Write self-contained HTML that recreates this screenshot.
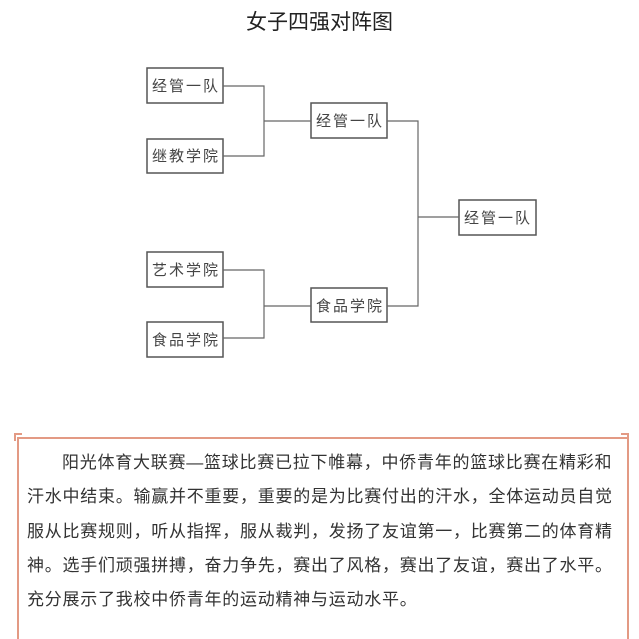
<!DOCTYPE html>
<html><head><meta charset="utf-8"><style>
body{margin:0;width:639px;height:607px;background:#fff;position:relative;overflow:hidden;font-family:"Liberation Sans","Noto Sans CJK SC",sans-serif;}
.t{position:absolute;left:0;width:639px;top:6px;text-align:center;font-size:21px;color:#222;}
.frame{position:absolute;left:17px;top:437px;width:608px;height:200px;border-left:2px solid #e39a84;border-right:2px solid #e39a84;border-top:2px solid #e39a84;}
.c{position:absolute;width:6px;height:6px;border-top:2px solid #e39a84;top:433px;}
.p{position:absolute;left:27px;top:446px;width:590px;font-size:17px;line-height:34.3px;letter-spacing:0.75px;color:#333;text-indent:35px;}
</style></head><body>
<div class="t">女子四强对阵图</div>
<svg width="639" height="420" style="position:absolute;left:0;top:0" font-family="Liberation Sans, Noto Sans CJK SC, sans-serif" font-size="15" fill="#444">
<g fill="#fff" stroke="#555" stroke-width="1.5">
<rect x="147" y="68" width="76" height="35"/>
<rect x="147" y="139" width="76" height="34"/>
<rect x="311" y="103" width="76" height="35"/>
<rect x="459" y="200" width="77" height="35"/>
<rect x="147" y="252" width="76" height="35"/>
<rect x="147" y="322" width="76" height="35"/>
<rect x="311" y="288" width="76" height="34"/>
</g>
<g fill="none" stroke="#666" stroke-width="1.2">
<path d="M223 86H264V156H223M264 121H311"/>
<path d="M223 270H264V338H223M264 306H311"/>
<path d="M387 121H418V306H387M418 217H459"/>
</g>
<g text-anchor="middle" fill="#444" letter-spacing="2">
<text x="186" y="91">经管一队</text>
<text x="186" y="161">继教学院</text>
<text x="350" y="126">经管一队</text>
<text x="498" y="223">经管一队</text>
<text x="186" y="275">艺术学院</text>
<text x="186" y="345">食品学院</text>
<text x="350" y="311">食品学院</text>
</g>
</svg>
<div class="frame"></div>
<div class="c" style="left:14px;border-left:2px solid #e39a84"></div>
<div class="c" style="left:621px;border-right:2px solid #e39a84"></div>
<div class="p">阳光体育大联赛—篮球比赛已拉下帷幕，中侨青年的篮球比赛在精彩和汗水中结束。输赢并不重要，重要的是为比赛付出的汗水，全体运动员自觉服从比赛规则，听从指挥，服从裁判，发扬了友谊第一，比赛第二的体育精神。选手们顽强拼搏，奋力争先，赛出了风格，赛出了友谊，赛出了水平。充分展示了我校中侨青年的运动精神与运动水平。</div>
</body></html>
